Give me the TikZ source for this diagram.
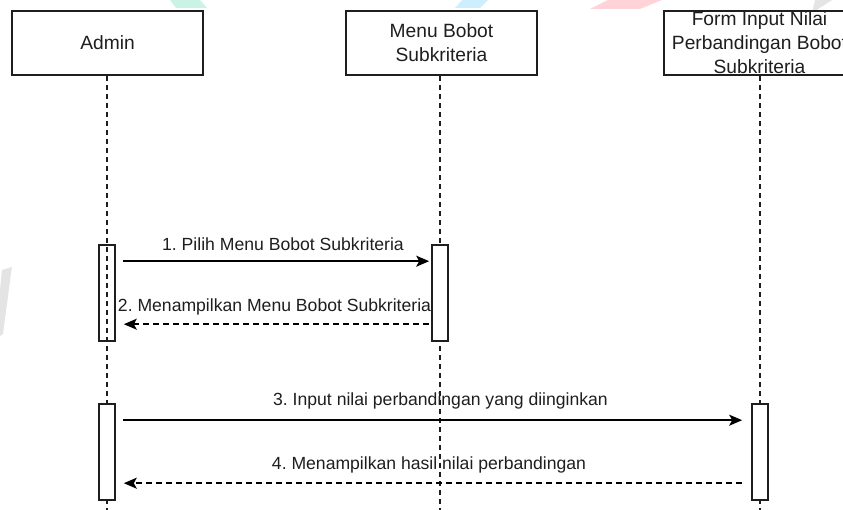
\documentclass[tikz,border=0pt]{standalone}
\usepackage{fontspec}
\setmainfont{Liberation Sans}
\usetikzlibrary{arrows.meta}
\frenchspacing

\definecolor{markteal}{RGB}{200,243,229}
\definecolor{markblue}{RGB}{205,238,255}
\definecolor{markred}{RGB}{255,211,216}
\definecolor{markgray}{RGB}{228,228,228}
\definecolor{inkgray}{RGB}{30,30,30}

\tikzset{
  actor/.style={draw=inkgray, line width=1.6pt, fill=white, minimum width=191pt,
    minimum height=64pt, inner sep=0pt, align=center,
    font=\fontsize{19.2}{24}\selectfont, text=inkgray},
  actbar/.style={draw=inkgray, line width=1.6pt, minimum width=16pt,
    minimum height=96pt, inner sep=0pt},
  lifeline/.style={draw=inkgray, line width=1.3pt, dash pattern=on 5pt off 4pt},
  msg/.style={draw=black, line width=1.7pt,
    -{Stealth[length=13pt, width=11pt, inset=3pt]}},
  reply/.style={msg, dash pattern=on 6pt off 4pt},
  msglabel/.style={anchor=base, inner sep=0pt, text=inkgray,
    font=\fontsize{17.6}{21}\selectfont},
  mark1/.style={fill=#1, draw=none}
}

\begin{document}
\begin{tikzpicture}[x=1pt, y=-1pt]
  \useasboundingbox (0,0) rectangle (843,510);

  % faint background marks
  \fill[mark1=markteal] (170,0) -- (200,0) -- (207,8) -- (176,8) -- cycle;
  \fill[mark1=markblue] (462,0) -- (488,0) -- (480,8) -- (455,8) -- cycle;
  \fill[mark1=markred] (608,0) -- (662,0) -- (640,9) -- (590,9) -- cycle;
  \fill[mark1=markgray] (815,0) -- (832,0) -- (812,13) -- cycle;
  \fill[mark1=markgray] (2,270) -- (12,267) -- (10,281) -- (3,334) -- (0,336) -- (0,290) -- cycle;

  % participants
  \node[actor] (admin) at (107.5,43) {Admin};
  \node[actor] (menu)  at (441.5,43) {Menu Bobot\\Subkriteria};
  \node[actor] (form)  at (759.5,43) {Form Input Nilai\\Perbandingan Bobot\\Subkriteria};

  % lifeline ends
  \coordinate (adminEnd) at (107,510);
  \coordinate (menuEnd)  at (440,510);
  \coordinate (formEnd)  at (760,510);

  \draw[lifeline] (admin.south -| adminEnd) -- (adminEnd);
  \draw[lifeline] (menu.south -| menuEnd) -- (menuEnd);
  \draw[lifeline] (form.south -| formEnd) -- (formEnd);

  % activation bars
  \node[actbar] (a1) at (107,293) {};
  \node[actbar, fill=white] (m1) at (440,293) {};
  \node[actbar, fill=white] (a2) at (107,452) {};
  \node[actbar, fill=white] (f1) at (760,452) {};

  % messages
  \draw[msg] ([shift={(7,17)}]a1.north east) -- ([shift={(-2,17)}]m1.north west)
    node[msglabel, midway, above=10pt, xshift=7pt] {1. Pilih Menu Bobot Subkriteria};
  \draw[reply] ([shift={(-2,80)}]m1.north west) -- ([shift={(8,80)}]a1.north east)
    node[msglabel, midway, above=8pt, xshift=-2pt] {2. Menampilkan Menu Bobot Subkriteria};
  \draw[msg] ([shift={(7,17)}]a2.north east) -- ([shift={(-9,17)}]f1.north west)
    node[msglabel, midway, above=10pt, xshift=8pt] {3. Input nilai perbandingan yang diinginkan};
  \draw[reply] ([shift={(-9,80)}]f1.north west) -- ([shift={(8,80)}]a2.north east)
    node[msglabel, midway, above=9pt, xshift=-4pt] {4. Menampilkan hasil nilai perbandingan};
\end{tikzpicture}
\end{document}
